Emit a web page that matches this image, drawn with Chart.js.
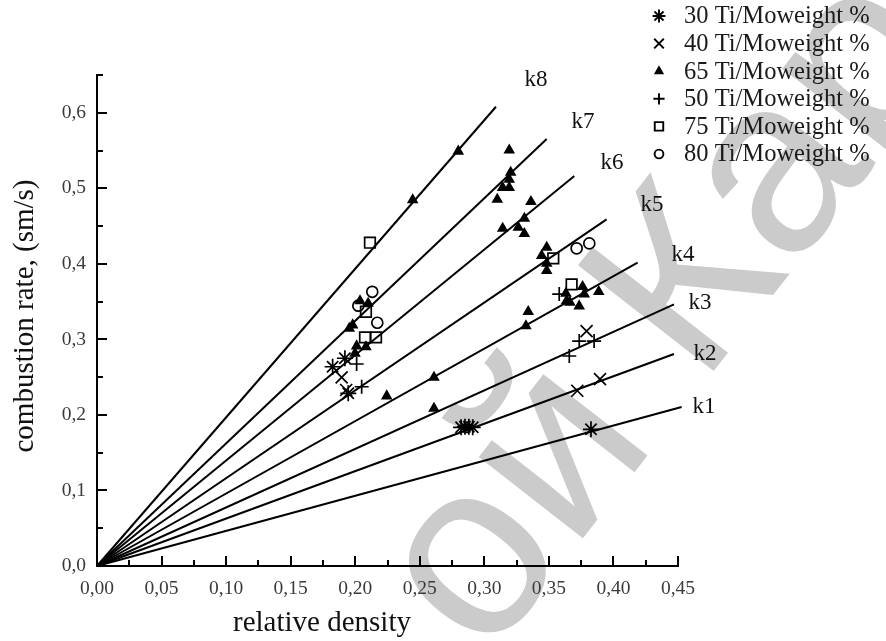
<!DOCTYPE html>
<html>
<head>
<meta charset="utf-8">
<script src="https://cdn.jsdelivr.net/npm/chart.js@4"></script>
<style>
    html, body { margin: 0; padding: 0; background: #fff; }
    #wrap { position: relative; width: 886px; height: 641px; }
</style>
</head>
<body>
<div id="wrap"><canvas id="chart"></canvas></div>
<script>
// fitted lines k1..k8: end points (all start at 0,0)
const lineNames = ['k1', 'k2', 'k3', 'k4', 'k5', 'k6', 'k7', 'k8'];
const lineEndX = [0.4528, 0.4469, 0.4469, 0.4187, 0.3947, 0.3697, 0.3483, 0.3090];
const lineEndY = [0.2105, 0.2806, 0.3464, 0.4015, 0.4589, 0.5162, 0.5652, 0.6080];
const lineLabelX = [0.4701, 0.4709, 0.4670, 0.4538, 0.4298, 0.3989, 0.3764, 0.3400];
const lineLabelY = [0.2105, 0.2806, 0.3481, 0.4116, 0.4778, 0.5334, 0.5877, 0.6433];

// measured points per alloy
const ti30X = [0.1825, 0.1920, 0.1946, 0.2820, 0.2850, 0.2880, 0.2910, 0.3826];
const ti30Y = [0.2638, 0.2750, 0.2286, 0.1836, 0.1844, 0.1844, 0.1836, 0.1810];
const ti40X = [0.1895, 0.1930, 0.3720, 0.3792, 0.3896];
const ti40Y = [0.2497, 0.2330, 0.2320, 0.3110, 0.2475];
const ti65X = [0.1954, 0.1980, 0.1998, 0.2011, 0.2037, 0.2083, 0.2100, 0.2244, 0.2445, 0.2610, 0.2610, 0.2798,
               0.3100, 0.3142, 0.3142, 0.3193, 0.3193, 0.3193, 0.3204, 0.3263, 0.3310, 0.3310, 0.3322, 0.3340,
               0.3361, 0.3444, 0.3483, 0.3483, 0.3483, 0.3632, 0.3638, 0.3663, 0.3735, 0.3761, 0.3774, 0.3886];
const ti65Y = [0.3146, 0.3190, 0.2815, 0.2912, 0.3508, 0.2900, 0.3477, 0.2250, 0.4845, 0.2497, 0.2087, 0.5490,
               0.4854, 0.5010, 0.4470, 0.5506, 0.5118, 0.5010, 0.5210, 0.4483, 0.4600, 0.4400, 0.3177, 0.3366,
               0.4822, 0.4107, 0.4218, 0.4007, 0.3910, 0.3610, 0.3512, 0.3490, 0.3441, 0.3697, 0.3600, 0.3631];
const ti50X = [0.2011, 0.2050, 0.3580, 0.3658, 0.3735, 0.3850];
const ti50Y = [0.2674, 0.2373, 0.3600, 0.2780, 0.2978, 0.2978];
const ti75X = [0.2076, 0.2083, 0.2114, 0.2161, 0.3534, 0.3676];
const ti75Y = [0.3027, 0.3366, 0.4280, 0.3027, 0.4073, 0.3728];
const ti80X = [0.2024, 0.2132, 0.2171, 0.3715, 0.3813];
const ti80Y = [0.3446, 0.3630, 0.3220, 0.4205, 0.4271];

// axes
const xTickValues = [0, 0.05, 0.10, 0.15, 0.20, 0.25, 0.30, 0.35, 0.40, 0.45];
const xMinorValues = [0.025, 0.075, 0.125, 0.175, 0.225, 0.275, 0.325, 0.375, 0.425];
const yTickValues = [0, 0.1, 0.2, 0.3, 0.4, 0.5, 0.6];
const yMinorValues = [0.05, 0.15, 0.25, 0.35, 0.45, 0.55, 0.65];

const SERIF = '"Liberation Serif", "Times New Roman", serif';

function pts(xs, ys) {
    return xs.map((x, i) => ({ x: x, y: ys[i] }));
}

const lineSets = lineNames.map((name, i) => ({
    type: 'line',
    label: name,
    data: [{ x: 0, y: 0 }, { x: lineEndX[i], y: lineEndY[i] }],
    borderColor: '#000',
    borderWidth: 2,
    pointRadius: 0,
    fill: false,
    clip: false
}));

function markerSet(label, xs, ys, style, radius, fill) {
    return {
        type: 'scatter',
        label: label,
        data: pts(xs, ys),
        pointStyle: style,
        pointRadius: radius,
        pointBorderWidth: 1.7,
        pointBorderColor: '#000',
        pointBackgroundColor: fill,
        showLine: false
    };
}

const markerSets = [
    markerSet('30 Ti/Moweight %', ti30X, ti30Y, 'star', 8, '#000'),
    markerSet('40 Ti/Moweight %', ti40X, ti40Y, 'crossRot', 8.5, '#000'),
    markerSet('65 Ti/Moweight %', ti65X, ti65Y, 'triangle', 5, '#000'),
    markerSet('50 Ti/Moweight %', ti50X, ti50Y, 'cross', 7, '#000'),
    markerSet('75 Ti/Moweight %', ti75X, ti75Y, 'rect', 7.5, 'rgba(0,0,0,0)'),
    markerSet('80 Ti/Moweight %', ti80X, ti80Y, 'circle', 5.5, 'rgba(0,0,0,0)')
];

// faint watermark behind everything
const watermark = {
    id: 'watermark',
    beforeDraw(chart) {
        const ctx = chart.ctx;
        ctx.save();
        ctx.translate(670, 315);
        ctx.rotate(-52 * Math.PI / 180);
        ctx.font = '250px "Liberation Sans", Arial, sans-serif';
        ctx.fillStyle = '#cbcbcb';
        ctx.textAlign = 'center';
        ctx.textBaseline = 'middle';
        ctx.fillText('ой Кар', 0, 0);
        ctx.restore();
    }
};

// inward major/minor ticks, axis titles, line names and the legend
const decorations = {
    id: 'decorations',
    afterDraw(chart) {
        const ctx = chart.ctx;
        const a = chart.chartArea;
        const x = chart.scales.x;
        const y = chart.scales.y;
        ctx.save();
        ctx.strokeStyle = '#000';
        ctx.lineWidth = 2;
        ctx.beginPath();
        xTickValues.forEach(v => {
            const px = Math.round(x.getPixelForValue(v));
            ctx.moveTo(px, a.bottom);
            ctx.lineTo(px, a.bottom - 10);
        });
        xMinorValues.forEach(v => {
            const px = Math.round(x.getPixelForValue(v));
            ctx.moveTo(px, a.bottom);
            ctx.lineTo(px, a.bottom - 6);
        });
        yTickValues.forEach(v => {
            const py = Math.round(y.getPixelForValue(v));
            ctx.moveTo(a.left, py);
            ctx.lineTo(a.left + 10, py);
        });
        yMinorValues.forEach(v => {
            const py = Math.round(y.getPixelForValue(v));
            ctx.moveTo(a.left, py);
            ctx.lineTo(a.left + 6, py);
        });
        ctx.stroke();

        // axis titles
        ctx.fillStyle = '#111';
        ctx.textAlign = 'center';
        ctx.textBaseline = 'middle';
        ctx.font = '29px ' + SERIF;
        ctx.fillText('relative density', 322, 623);
        ctx.save();
        ctx.translate(25, 316);
        ctx.rotate(-Math.PI / 2);
        ctx.fillText('combustion rate, (sm/s)', 0, 0);
        ctx.restore();

        // k labels
        ctx.font = '23px ' + SERIF;
        lineNames.forEach((name, i) => {
            ctx.fillText(name, x.getPixelForValue(lineLabelX[i]), y.getPixelForValue(lineLabelY[i]));
        });

        // legend
        ctx.textAlign = 'left';
        ctx.font = '24.5px ' + SERIF;
        markerSets.forEach((ds, i) => {
            const ly = 16 + i * 27.6;
            ctx.fillStyle = ds.pointBackgroundColor;
            ctx.strokeStyle = '#000';
            ctx.lineWidth = 1.9;
            if (Chart.helpers && Chart.helpers.drawPoint) {
                Chart.helpers.drawPoint(ctx, {
                    pointStyle: ds.pointStyle,
                    radius: ds.pointRadius * 0.8,
                    rotation: 0,
                    borderWidth: 1.9
                }, 659, ly);
            }
            ctx.fillStyle = '#1a1a1a';
            ctx.fillText(ds.label, 684, ly + 1);
        });
        ctx.restore();
    }
};

const ctx = document.getElementById('chart').getContext('2d');
const chart = new Chart(ctx, {
    type: 'scatter',
    data: { datasets: lineSets.concat(markerSets) },
    options: {
        responsive: true,
        maintainAspectRatio: false,
        animation: false,
        events: [],
        layout: { padding: { top: 75, right: 208, bottom: 0, left: 0 } },
        plugins: {
            legend: { display: false },
            tooltip: { enabled: false },
            title: { display: false }
        },
        scales: {
            x: {
                type: 'linear',
                min: 0,
                max: 0.45,
                afterBuildTicks: s => { s.ticks = xTickValues.map(v => ({ value: v })); },
                afterFit: s => { s.height = 75; s.paddingLeft = 0; s.paddingRight = 0; },
                grid: { display: false, drawTicks: false },
                border: { display: true, color: '#000', width: 2 },
                ticks: {
                    padding: 11,
                    color: '#3a3a3a',
                    font: { family: SERIF, size: 19.5 },
                    callback: v => v.toFixed(2).replace('.', ',')
                }
            },
            y: {
                type: 'linear',
                min: 0,
                max: 0.65,
                afterBuildTicks: s => { s.ticks = yTickValues.map(v => ({ value: v })); },
                afterFit: s => { s.width = 97; s.paddingTop = 0; s.paddingBottom = 0; },
                grid: { display: false, drawTicks: false },
                border: { display: true, color: '#000', width: 2 },
                ticks: {
                    padding: 11,
                    color: '#3a3a3a',
                    font: { family: SERIF, size: 19.5 },
                    callback: v => v.toFixed(1).replace('.', ',')
                }
            }
        }
    },
    plugins: [watermark, decorations]
});
</script>
</body>
</html>
